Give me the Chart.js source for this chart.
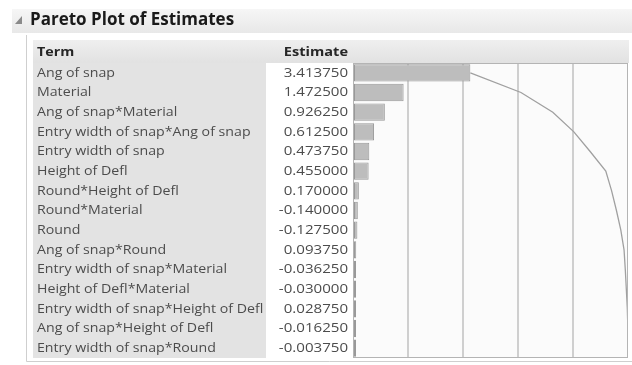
<!DOCTYPE html>
<html>
<head>
<meta charset="utf-8">
<script src="https://cdn.jsdelivr.net/npm/chart.js@4.4.1/dist/chart.umd.min.js"></script>
<style>
  html, body { margin: 0; padding: 0; background: #ffffff; }
  #wrap { width: 632px; height: 365px; }
</style>
</head>
<body>
<div id="wrap"><canvas id="c" width="632" height="365"></canvas></div>
<script>
const title = "Pareto Plot of Estimates";
const headerTerm = "Term";
const headerEstimate = "Estimate";
const terms = [
  "Ang of snap",
  "Material",
  "Ang of snap*Material",
  "Entry width of snap*Ang of snap",
  "Entry width of snap",
  "Height of Defl",
  "Round*Height of Defl",
  "Round*Material",
  "Round",
  "Ang of snap*Round",
  "Entry width of snap*Material",
  "Height of Defl*Material",
  "Entry width of snap*Height of Defl",
  "Ang of snap*Height of Defl",
  "Entry width of snap*Round"
];
const estimates = [
  3.413750, 1.472500, 0.926250, 0.612500, 0.473750, 0.455000, 0.170000,
  -0.140000, -0.127500, 0.093750, -0.036250, -0.030000, 0.028750,
  -0.016250, -0.003750
];
const xMax = 8;
const xStep = 1.6;

const barValues = estimates.map(v => Math.abs(v));
const cumulative = [];
barValues.reduce((s, v, i) => { cumulative[i] = s + v; return s + v; }, 0);

const FONT = "'Open Sans', 'Segoe UI', sans-serif";

function drawText(ctx, text, x, y, align, sx) {
  ctx.save();
  ctx.translate(x, y);
  ctx.scale(sx, 1);
  ctx.textAlign = align;
  ctx.fillText(text, 0, 0);
  ctx.restore();
}

const tablePlugin = {
  id: 'tablePlugin',
  beforeDraw(chart) {
    const ctx = chart.ctx;
    const area = chart.chartArea;
    const y = chart.scales.y;
    ctx.save();
    // title band
    let g = ctx.createLinearGradient(0, 9, 0, 33);
    g.addColorStop(0, '#f6f6f6');
    g.addColorStop(1, '#e8e8e8');
    ctx.fillStyle = g;
    ctx.fillRect(12, 9, 620, 24);
    // disclosure triangle
    ctx.fillStyle = '#8a8a8a';
    ctx.beginPath();
    ctx.moveTo(22, 16); ctx.lineTo(22, 24); ctx.lineTo(15, 24); ctx.closePath();
    ctx.fill();
    // title text
    ctx.fillStyle = '#1a1a1a';
    ctx.font = "bold 17px " + FONT;
    ctx.textBaseline = 'middle';
    drawText(ctx, title, 30, 20, 'left', 1.0);
    // outline frame
    ctx.strokeStyle = '#cfcfcf';
    ctx.lineWidth = 1;
    ctx.beginPath();
    ctx.moveTo(26.5, 35); ctx.lineTo(26.5, 361.5); ctx.lineTo(632, 361.5);
    ctx.stroke();
    // header band
    g = ctx.createLinearGradient(0, 40, 0, 62);
    g.addColorStop(0, '#efefef');
    g.addColorStop(1, '#e2e2e2');
    ctx.fillStyle = g;
    ctx.fillRect(33, 40, area.right - 33 + 1, area.top - 40);
    // term column background
    ctx.fillStyle = '#e3e3e3';
    ctx.fillRect(33, area.top, 233, area.bottom - area.top);
    // plot background
    ctx.fillStyle = '#fbfbfb';
    ctx.fillRect(area.left, area.top, area.right - area.left, area.bottom - area.top);
    // headers
    ctx.fillStyle = '#262626';
    ctx.font = "bold 13px " + FONT;
    drawText(ctx, headerTerm, 37, 52, 'left', 1.1);
    drawText(ctx, headerEstimate, 348, 52, 'right', 1.12);
    // rows
    ctx.font = "13px " + FONT;
    ctx.fillStyle = '#4c4c4c';
    terms.forEach((t, i) => {
      const py = y.getPixelForValue(i);
      drawText(ctx, t, 37, py, 'left', 1.09);
      drawText(ctx, estimates[i].toFixed(6), 348, py, 'right', 1.16);
    });
    ctx.restore();
  },
  afterDraw(chart) {
    const ctx = chart.ctx;
    const a = chart.chartArea;
    ctx.save();
    ctx.strokeStyle = '#b4b4b4';
    ctx.lineWidth = 1;
    ctx.strokeRect(a.left + 0.5, a.top + 0.5, a.right - a.left - 1, a.bottom - a.top - 1);
    ctx.restore();
  }
};

new Chart(document.getElementById('c'), {
  type: 'bar',
  data: {
    labels: terms,
    datasets: [
      {
        type: 'line',
        data: cumulative,
        borderColor: '#a0a0a0',
        borderWidth: 1.3,
        pointRadius: 0,
        tension: 0,
        fill: false,
        order: 0
      },
      {
        type: 'bar',
        data: barValues,
        backgroundColor: '#bdbdbd',
        borderColor: '#999999',
        borderWidth: 1,
        borderSkipped: false,
        barPercentage: 0.88,
        categoryPercentage: 1,
        minBarLength: 3,
        order: 1
      }
    ]
  },
  options: {
    indexAxis: 'y',
    responsive: false,
    animation: false,
    devicePixelRatio: 1,
    layout: { padding: { left: 353, right: 4, top: 63, bottom: 7 } },
    plugins: { legend: { display: false }, tooltip: { enabled: false } },
    scales: {
      x: {
        min: 0, max: xMax,
        ticks: { display: false, stepSize: xStep },
        grid: {
          drawTicks: false,
          lineWidth: 2,
          color: ctx => (ctx.tick && (ctx.tick.value <= 0 || ctx.tick.value >= xMax)) ? 'rgba(0,0,0,0)' : '#cfcfcf'
        },
        border: { display: false }
      },
      y: {
        display: false,
        offset: true
      }
    }
  },
  plugins: [tablePlugin]
});
</script>
</body>
</html>
